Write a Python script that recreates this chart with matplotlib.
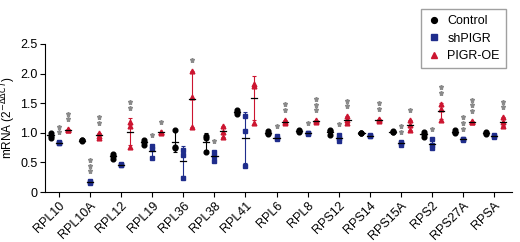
import matplotlib.pyplot as plt
import numpy as np

plt.rcParams['font.family'] = ['Liberation Sans', 'DejaVu Sans']

# datos
genes = ['RPL10', 'RPL10A', 'RPL12', 'RPL19', 'RPL36', 'RPL38', 'RPL41', 'RPL6',
         'RPL8', 'RPS12', 'RPS14', 'RPS15A', 'RPS2', 'RPS27A', 'RPSA']

control = [[1.00, 0.95, 0.92], [0.87, 0.86, 0.87], [0.65, 0.60, 0.56], [0.88, 0.84, 0.79],
           [1.05, 0.76, 0.74], [0.95, 0.92, 0.68], [1.38, 1.35, 1.32], [1.03, 1.00, 0.98],
           [1.05, 1.02, 1.03], [1.05, 1.03, 0.96], [1.00, 0.99, 0.99], [1.03, 1.02, 1.01],
           [1.02, 0.98, 0.93], [1.04, 1.01, 1.00], [1.02, 1.00, 0.98]]

shpigr = [[0.84, 0.83, 0.82], [0.18, 0.17, 0.16], [0.48, 0.46, 0.45], [0.77, 0.72, 0.58],
          [0.71, 0.62, 0.23], [0.68, 0.61, 0.52], [1.29, 1.03, 0.44], [0.95, 0.92, 0.89],
          [1.00, 0.98, 0.99], [0.97, 0.92, 0.86], [0.96, 0.95, 0.94], [0.85, 0.82, 0.80],
          [0.89, 0.79, 0.74], [0.90, 0.89, 0.88], [0.96, 0.94, 0.93]]

pigr_oe = [[1.06, 1.05, 1.04], [1.00, 0.95, 0.92], [1.18, 1.12, 0.76], [1.02, 1.01, 1.00],
           [2.04, 1.60, 1.09], [1.12, 1.02, 0.93], [1.82, 1.79, 1.16], [1.22, 1.19, 1.16],
           [1.21, 1.20, 1.19], [1.28, 1.22, 1.17], [1.24, 1.22, 1.20], [1.22, 1.13, 1.04],
           [1.49, 1.40, 1.22], [1.20, 1.19, 1.18], [1.26, 1.19, 1.11]]

# numero de asteriscos de significancia
stars_sh = [2, 3, 0, 1, 0, 1, 0, 1, 1, 1, 0, 2, 1, 3, 0]
stars_oe = [2, 2, 2, 1, 1, 0, 0, 2, 3, 2, 2, 1, 2, 3, 2]

########################
fig = plt.figure(figsize=(5.2, 2.42), dpi=100)
ax = fig.add_axes([0.0865, 0.2066, 0.8985, 0.6116])

x = np.arange(len(genes))
groups = [
    ('Control', control, -0.27, 'o', 'black', 3.4, None),
    ('shPIGR', shpigr, 0.0, 's', '#1f2d8c', 3.2, stars_sh),
    ('PIGR-OE', pigr_oe, 0.28, '^', '#cc1530', 3.4, stars_oe),
]

for name, data, off, mk, col, ms, stars in groups:
    d = np.array(data)
    mean = d.mean(axis=1)
    sd = d.std(axis=1, ddof=1)
    xs = x + off
    ax.errorbar(xs, mean, yerr=sd, fmt='none', ecolor=col, elinewidth=0.8,
                capsize=1.5, capthick=0.8, zorder=2)
    for i in range(len(genes)):
        ax.plot([xs[i]] * 3, d[i], linestyle='none', marker=mk, color=col,
                markersize=ms, zorder=3)
        ax.plot([xs[i] - 0.1, xs[i] + 0.1], [mean[i], mean[i]], color='black',
                lw=0.9, zorder=4)
        if stars is not None and stars[i] > 0:
            base = max(d[i].max(), mean[i] + sd[i]) + 0.17
            ys = base + 0.095 * np.arange(stars[i])
            ax.plot([xs[i]] * stars[i], ys, linestyle='none', marker='*',
                    color='#8a8a8a', markersize=3.6, zorder=3)
    ax.plot([], [], linestyle='none', marker=mk, color=col, markersize=4.2, label=name)

ax.set_xlim(-0.45, 14.58)
ax.set_ylim(0, 2.5)
ax.set_yticks([0, 0.5, 1.0, 1.5, 2.0, 2.5])
ax.set_yticklabels(['0', '0.5', '1.0', '1.5', '2.0', '2.5'], fontsize=9)
ax.set_xticks(x)
ax.set_xticklabels(genes, rotation=45, ha='right', rotation_mode='anchor', fontsize=9)
ax.tick_params(length=3.5, width=0.8, pad=2)
ax.spines['top'].set_visible(False)
ax.spines['right'].set_visible(False)
ax.set_ylabel(r'mRNA (2$^{-\Delta\Delta CT}$)', fontsize=8.5)
ax.yaxis.set_label_coords(-0.057, 0.5)

fig.legend(loc='upper right', bbox_to_anchor=(0.985, 0.99), fontsize=9,
           frameon=True, fancybox=False, edgecolor='#888888', handlelength=1.0,
           handletextpad=0.6, borderpad=0.5, labelspacing=0.45)

fig.savefig('out.png', dpi=100)
